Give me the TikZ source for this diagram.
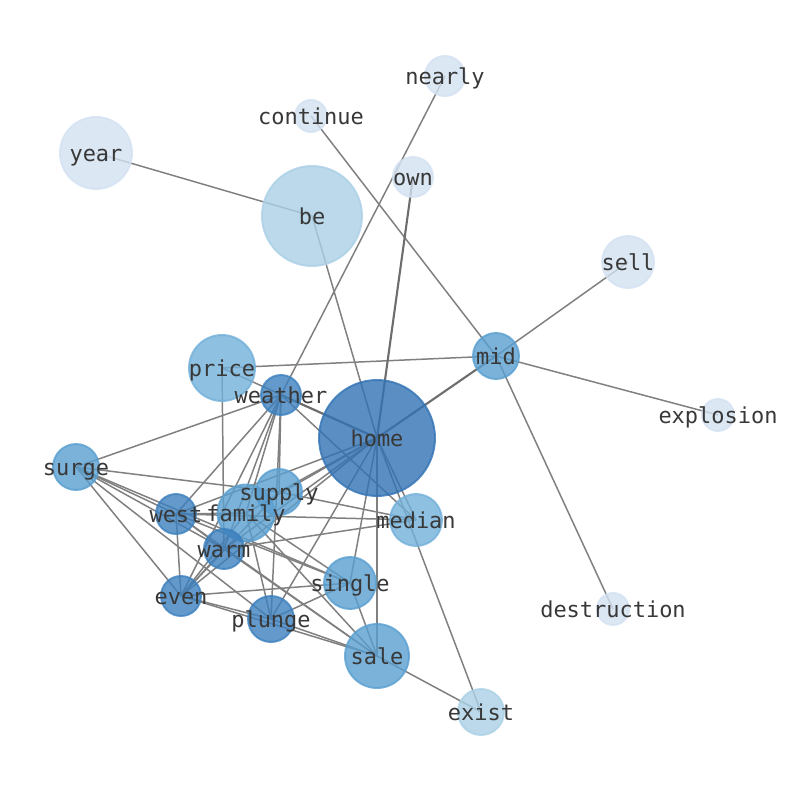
\documentclass[tikz,border=0pt]{standalone}
\usepackage{fontspec}
\setmonofont{DejaVu Sans Mono}
\usetikzlibrary{backgrounds}
\definecolor{cHome}{RGB}{50,115,181}
\definecolor{cDark}{RGB}{60,128,190}
\definecolor{cMid}{RGB}{89,159,208}
\definecolor{cPrice}{RGB}{114,176,218}
\definecolor{cBe}{RGB}{170,208,229}
\definecolor{cLight}{RGB}{211,225,241}
\definecolor{edgegray}{RGB}{128,128,128}
\definecolor{txt}{RGB}{56,56,56}
\tikzset{
  nd/.style={circle, inner sep=0pt, outer sep=0pt, line width=1.1pt, fill opacity=0.8, draw opacity=0.8},
  lab/.style={font=\ttfamily\fontsize{12.5}{14}\selectfont, text=txt, inner sep=0pt, text height=0.74em, text depth=0pt, yshift=-0.045cm},
  ed/.style={draw=edgegray, line width=0.85pt},
  edthick/.style={draw=edgegray!85!black, line width=1.2pt},
}
\begin{document}
\begin{tikzpicture}[x=0.02cm, y=-0.02cm]
\useasboundingbox (0,0) rectangle (794,790);
% nodes (circles)
\node[nd, fill=cHome, draw=cHome, minimum size=2.32cm] (home) at (377,438) {};
\node[nd, fill=cBe, draw=cBe, minimum size=2.0cm] (be) at (312,216) {};
\node[nd, fill=cLight, draw=cLight, minimum size=1.44cm] (year) at (96,153) {};
\node[nd, fill=cLight, draw=cLight, minimum size=0.64cm] (continue) at (311,116) {};
\node[nd, fill=cLight, draw=cLight, minimum size=0.8cm] (nearly) at (445,76) {};
\node[nd, fill=cLight, draw=cLight, minimum size=0.8cm] (own) at (413,177) {};
\node[nd, fill=cLight, draw=cLight, minimum size=1.04cm] (sell) at (628,262) {};
\node[nd, fill=cMid, draw=cMid, minimum size=0.92cm] (mid) at (496,356) {};
\node[nd, fill=cLight, draw=cLight, minimum size=0.64cm] (explosion) at (718,415) {};
\node[nd, fill=cLight, draw=cLight, minimum size=0.64cm] (destruction) at (613,609) {};
\node[nd, fill=cPrice, draw=cPrice, minimum size=1.32cm] (price) at (222,368) {};
\node[nd, fill=cDark, draw=cDark, minimum size=0.8cm] (weather) at (281,395) {};
\node[nd, fill=cMid, draw=cMid, minimum size=0.92cm] (surge) at (76,467) {};
\node[nd, fill=cMid, draw=cMid, minimum size=0.92cm] (supply) at (279,492) {};
\node[nd, fill=cMid, draw=cMid, minimum size=1.14cm] (family) at (246,513) {};
\node[nd, fill=cDark, draw=cDark, minimum size=0.8cm] (west) at (176,514) {};
\node[nd, fill=cPrice, draw=cPrice, minimum size=1.04cm] (median) at (416,520) {};
\node[nd, fill=cDark, draw=cDark, minimum size=0.8cm] (warm) at (224,549) {};
\node[nd, fill=cMid, draw=cMid, minimum size=1.04cm] (single) at (350,583) {};
\node[nd, fill=cDark, draw=cDark, minimum size=0.8cm] (even) at (181,596) {};
\node[nd, fill=cDark, draw=cDark, minimum size=0.92cm] (plunge) at (271,619) {};
\node[nd, fill=cMid, draw=cMid, minimum size=1.28cm] (sale) at (377,656) {};
\node[nd, fill=cBe, draw=cBe, minimum size=0.92cm] (exist) at (481,712) {};
% edges
\begin{scope}[on background layer]
\foreach \a/\b in {year/be, be/home, continue/mid, nearly/weather, mid/sell, mid/explosion,
  mid/destruction, price/mid, price/home, home/median, home/exist, home/sale, home/single,
  home/plunge, home/supply, home/family, home/west, home/warm, home/even,
  weather/surge, weather/west, weather/even, weather/warm, weather/family, weather/plunge,
  weather/supply, weather/median, price/warm, surge/supply, supply/median, surge/west,
  surge/warm, surge/single, surge/plunge, surge/even, west/family, west/median, west/warm,
  west/even, west/sale, west/single, even/single, even/plunge, even/sale, even/warm,
  even/family, even/supply, plunge/single, plunge/sale, plunge/family, sale/single,
  sale/exist, sale/family, warm/median, family/single, warm/sale}
  {\draw[ed] (\a.center) -- (\b.center);}
\foreach \a/\b in {own/home, mid/home, weather/home}
  {\draw[edthick] (\a.center) -- (\b.center);}
\end{scope}
% labels
\foreach \n in {home, be, year, continue, nearly, own, sell, mid, explosion, destruction,
  price, weather, surge, supply, family, west, median, warm, single, even, plunge, sale, exist}
  {\node[lab] (\n-t) at (\n.center) {\n};}
\end{tikzpicture}
\end{document}
